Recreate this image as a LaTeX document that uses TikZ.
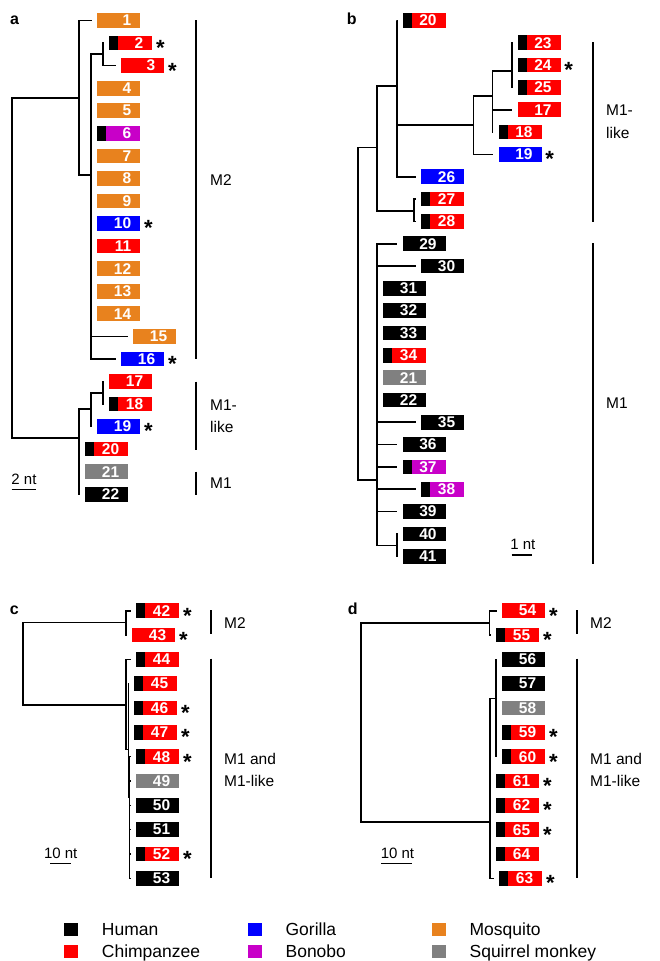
\documentclass[tikz,border=0pt]{standalone}
\usepackage{fontspec}
\setmainfont{Liberation Sans}
\usetikzlibrary{positioning}

\definecolor{mosq}{RGB}{232,130,30}
\definecolor{chimp}{RGB}{255,0,0}
\definecolor{gor}{RGB}{0,0,255}
\definecolor{bono}{RGB}{200,0,200}
\definecolor{sqm}{RGB}{128,128,128}

\tikzset{
  leaf/.style={rectangle, fill=#1, text=white,
    font=\bfseries\fontsize{15.5}{15.5}\selectfont,
    minimum height=14.7pt, inner ysep=0pt, inner xsep=9pt,
    text width=25pt, align=right, anchor=west},
  bar/.style={path picture={\fill[black] (path picture bounding box.south west)
    rectangle ([xshift=9pt]path picture bounding box.north west);}},
  mq/.style={leaf=mosq}, ch/.style={leaf=chimp}, go/.style={leaf=gor},
  bo/.style={leaf=bono}, sq/.style={leaf=sqm}, hu/.style={leaf=black},
  hch/.style={leaf=chimp, bar}, hbo/.style={leaf=bono, bar},
  ast/.style={anchor=base west, inner sep=0pt, font=\bfseries\fontsize{22}{22}\selectfont},
  tree/.style={line width=1.6pt},
  clade/.style={line width=1.8pt},
  group/.style={anchor=west, align=left, inner sep=0pt, font=\fontsize{15.5}{22.5}\selectfont},
  scalebar/.style={inner sep=0pt, font=\fontsize{15}{15}\selectfont},
  panel/.style={anchor=base, inner sep=0pt, font=\bfseries\fontsize{16}{16}\selectfont},
  swatch/.style={minimum width=14pt, minimum height=13pt, inner sep=0pt},
  keytext/.style={anchor=base west, inner sep=0pt, font=\fontsize{17.5}{17.5}\selectfont},
}

\begin{document}
\begin{tikzpicture}[x=1pt, y=-1pt]

    \useasboundingbox (0,0) rectangle (660,961);
    \def\gap{5.5pt}

    % ── Panel letters ───────────────────────────────────────────────────────
    \node[panel] (pa) at (14.5,24.3)  {a};
    \node[panel] (pb) at (351.7,24.3) {b};
    \node[panel] (pc) at (14.3,614)   {c};
    \node[panel] (pd) at (352.7,614)  {d};

    % ════════════════════════════════════════════════════════════════════════
    % PANEL a
    % ════════════════════════════════════════════════════════════════════════
    \foreach \n/\r/\x/\s in {1/1/97/mq, 2/2/109/hch, 3/3/121/ch, 4/4/97/mq,
        5/5/97/mq, 6/6/97/hbo, 7/7/97/mq, 8/8/97/mq, 9/9/97/mq, 10/10/97/go,
        11/11/97/ch, 12/12/97/mq, 13/13/97/mq, 14/14/97/mq, 15/15/133/mq,
        16/16/121/go, 17/17/109/ch, 18/18/109/hch, 19/19/97/go, 20/20/85/hch,
        21/21/85/sq, 22/22/85/hu}
        \node[\s] (a\n) at (\x,{20.5+(\r-1)*22.56}) {\n};
    \foreach \n in {2,3,10,16,19}
        \node[ast] (sa\n) at ([xshift=3.5pt,yshift=-12.4pt]a\n.east) {*};

    % ── Tree a ──────────────────────────────────────────────────────────────
    \coordinate (aR)  at (12,268);
    \coordinate (aM2) at (79,98);
    \coordinate (aX)  at (91,175);
    \coordinate (aY)  at (103,54);
    \coordinate (aM1) at (79,438);
    \coordinate (aZ)  at (91,409);
    \coordinate (aW)  at (103,393);

    \draw[tree] (aR) |- (aM2);
    \draw[tree] (aR) |- (aM1);
    \draw[tree] (aM2) |- ([xshift=-\gap]a1.west);
    \draw[tree] (aM2) |- (aX);
    \draw[tree] (aX) |- (aY);
    \foreach \i in {4,...,16}
        \draw[tree] (aX) |- ([xshift=-\gap]a\i.west);
    \foreach \i in {2,3}
        \draw[tree] (aY) |- ([xshift=-\gap]a\i.west);
    \draw[tree] (aM1) |- (aZ);
    \foreach \i in {20,21,22}
        \draw[tree] (aM1) |- ([xshift=-\gap]a\i.west);
    \draw[tree] (aZ) |- (aW);
    \draw[tree] (aZ) |- ([xshift=-\gap]a19.west);
    \foreach \i in {17,18}
        \draw[tree] (aW) |- ([xshift=-\gap]a\i.west);

    % ── Groups a ────────────────────────────────────────────────────────────
    \draw[clade] (196,20) -- (196,359);
    \draw[clade] (196,381.7) -- (196,450);
    \draw[clade] (196,471.7) -- (196,495);
    \node[group] (gaM2)  at (210,180) {M2};
    \node[group] (gaM1l) at (210,416) {M1-\\like};
    \node[group] (gaM1)  at (210,483) {M1};

    % ── Scale a ─────────────────────────────────────────────────────────────
    \node[scalebar] (sclA) at (24,479.5) {2 nt};
    \draw[line width=1.4pt] (11.7,489.3) -- (36,489.3);

    % ════════════════════════════════════════════════════════════════════════
    % PANEL b
    % ════════════════════════════════════════════════════════════════════════
    \foreach \n/\r/\x/\s in {20/1/402.3/hch, 23/2/517.3/hch, 24/3/517.3/hch,
        25/4/517.3/hch, 17/5/517.3/ch, 18/6/498.3/hch, 19/7/498.3/go,
        26/8/421/go, 27/9/421/hch, 28/10/421/hch, 29/11/402.3/hu, 30/12/421/hu,
        31/13/383/hu, 32/14/383/hu, 33/15/383/hu, 34/16/383/hch, 21/17/383/sq,
        22/18/383/hu, 35/19/421/hu, 36/20/402.3/hu, 37/21/402.3/hbo,
        38/22/421/hbo, 39/23/402.3/hu, 40/24/402.3/hu, 41/25/402.3/hu}
        \node[\s] (b\n) at (\x,{20.5+(\r-1)*22.32}) {\n};
    \foreach \n in {24,19}
        \node[ast] (sb\n) at ([xshift=3.5pt,yshift=-12.4pt]b\n.east) {*};

    % ── Tree b ──────────────────────────────────────────────────────────────
    \coordinate (bR) at (357.7,300);
    \coordinate (bU) at (377,147.3);
    \coordinate (bV) at (397,85.7);
    \coordinate (bP) at (473.3,125);
    \coordinate (bQ) at (492.3,95.7);
    \coordinate (bS) at (511.7,70.7);
    \coordinate (bT) at (414,210.7);
    \coordinate (bL) at (377,480);
    \coordinate (bN) at (396.7,545.3);

    \draw[tree] (bR) |- (bU);
    \draw[tree] (bR) |- (bL);
    \draw[tree] (bU) |- (bV);
    \draw[tree] (bU) |- (bT);
    \draw[tree] (bV) |- ([xshift=-\gap]b20.west);
    \draw[tree] (bV) |- (bP);
    \draw[tree] (bV) |- ([xshift=-\gap]b26.west);
    \draw[tree] (bP) |- (bQ);
    \draw[tree] (bP) |- ([xshift=-\gap]b19.west);
    \draw[tree] (bQ) |- (bS);
    \foreach \i in {17,18}
        \draw[tree] (bQ) |- ([xshift=-\gap]b\i.west);
    \foreach \i in {23,24,25}
        \draw[tree] (bS) |- ([xshift=-\gap]b\i.west);
    \foreach \i in {27,28}
        \draw[tree] (bT) |- ([xshift=-\gap]b\i.west);
    \foreach \i in {29,30,31,32,33,34,21,22,35,36,37,38,39}
        \draw[tree] (bL) |- ([xshift=-\gap]b\i.west);
    \draw[tree] (bL) |- (bN);
    \foreach \i in {40,41}
        \draw[tree] (bN) |- ([xshift=-\gap]b\i.west);

    % ── Groups b ────────────────────────────────────────────────────────────
    \draw[clade] (592.7,42) -- (592.7,221.7);
    \draw[clade] (592.7,243.3) -- (592.7,563.5);
    \node[group] (gbM1l) at (606,121.7) {M1-\\like};
    \node[group] (gbM1)  at (606,403.3) {M1};

    % ── Scale b ─────────────────────────────────────────────────────────────
    \node[scalebar] (sclB) at (522.8,544.3) {1 nt};
    \draw[line width=1.4pt] (511.7,555) -- (532.3,555);

    % ════════════════════════════════════════════════════════════════════════
    % PANEL c
    % ════════════════════════════════════════════════════════════════════════
    \foreach \n/\r/\x/\s in {42/1/136/hch, 43/2/132/ch, 44/3/136/hch,
        45/4/134/hch, 46/5/134/hch, 47/6/134/hch, 48/7/136/hch, 49/8/136/sq,
        50/9/136/hu, 51/10/136/hu, 52/11/136/hch, 53/12/136/hu}
        \node[\s] (c\n) at (\x,{610.7+(\r-1)*24.33}) {\n};
    \foreach \n in {42,43,46,47,48,52}
        \node[ast] (sc\n) at ([xshift=3.5pt,yshift=-12.4pt]c\n.east) {*};

    % ── Tree c ──────────────────────────────────────────────────────────────
    \coordinate (cR)  at (22.7,660);
    \coordinate (cM2) at (126,622.3);
    \coordinate (cM1) at (126,704.7);
    \coordinate (cB)  at (128.3,749.3);
    \coordinate (cC)  at (129.3,796.7);

    \draw[tree] (cR) |- (cM2);
    \draw[tree] (cR) |- (cM1);
    \foreach \i in {42,43}
        \draw[tree] (cM2) |- ([xshift=-\gap]c\i.west);
    \draw[tree] (cM1) |- ([xshift=-\gap]c44.west);
    \draw[tree] (cM1) |- (cB);
    \foreach \i in {45,46,47}
        \draw[tree] (cB) |- ([xshift=-\gap]c\i.west);
    \draw[tree] (cB) |- (cC);
    \foreach \i in {48,...,53}
        \draw[tree] (cC) |- ([xshift=-\gap]c\i.west);

    % ── Groups c ────────────────────────────────────────────────────────────
    \draw[clade] (210.7,610) -- (210.7,634.3);
    \draw[clade] (210.7,658.7) -- (210.7,877.7);
    \node[group] (gcM2) at (224,623.3) {M2};
    \node[group] (gcM1) at (224,769.7) {M1 and\\M1-like};

    % ── Scale c ─────────────────────────────────────────────────────────────
    \node[scalebar] (sclC) at (60.7,853.3) {10 nt};
    \draw[line width=1.4pt] (50,863.3) -- (71,863.3);

    % ════════════════════════════════════════════════════════════════════════
    % PANEL d
    % ════════════════════════════════════════════════════════════════════════
    \foreach \n/\r/\x/\s in {54/1/502/ch, 55/2/496/hch, 56/3/502/hu,
        57/4/502/hu, 58/5/502/sq, 59/6/502/hch, 60/7/502/hch, 61/8/496/hch,
        62/9/496/hch, 65/10/496/hch, 64/11/496/hch, 63/12/499/hch}
        \node[\s] (d\n) at (\x,{610.7+(\r-1)*24.33}) {\n};
    \foreach \n in {54,55,59,60,61,62,65,63}
        \node[ast] (sd\n) at ([xshift=3.5pt,yshift=-12.4pt]d\n.east) {*};

    % ── Tree d ──────────────────────────────────────────────────────────────
    \coordinate (dR)  at (360.7,700);
    \coordinate (dM2) at (489.3,622.7);
    \coordinate (dM1) at (490,821.7);
    \coordinate (dF)  at (496,698.3);

    \draw[tree] (dR) |- (dM2);
    \draw[tree] (dR) |- (dM1);
    \foreach \i in {54,55}
        \draw[tree] (dM2) |- ([xshift=-\gap]d\i.west);
    \draw[tree] (dM1) |- (dF);
    \foreach \i in {61,62,65,64,63}
        \draw[tree] (dM1) |- ([xshift=-\gap]d\i.west);
    \foreach \i in {56,...,60}
        \draw[tree] (dF) |- ([xshift=-\gap]d\i.west);

    % ── Groups d ────────────────────────────────────────────────────────────
    \draw[clade] (576.7,610) -- (576.7,634.3);
    \draw[clade] (576.7,658.7) -- (576.7,877.7);
    \node[group] (gdM2) at (590,623.3) {M2};
    \node[group] (gdM1) at (590,769.7) {M1 and\\M1-like};

    % ── Scale d ─────────────────────────────────────────────────────────────
    \node[scalebar] (sclD) at (397.5,853.3) {10 nt};
    \draw[line width=1.4pt] (381,863.3) -- (412.3,863.3);

    % ════════════════════════════════════════════════════════════════════════
    % LEGEND
    % ════════════════════════════════════════════════════════════════════════
    \foreach \nm/\c/\x/\y in {Human/black/70.8/929.5, Chimpanzee/chimp/70.8/951.2,
        Gorilla/gor/254.5/929.5, Bonobo/bono/254.5/951.2,
        Mosquito/mosq/438.5/929.5, {Squirrel monkey}/sqm/438.5/951.2} {
        \node[swatch, fill=\c] (k\c) at (\x,\y) {};
        \node[keytext] (t\c) at ([xshift=30.9pt,yshift=-6.3pt]k\c.center) {\nm};
    }

\end{tikzpicture}
\end{document}
